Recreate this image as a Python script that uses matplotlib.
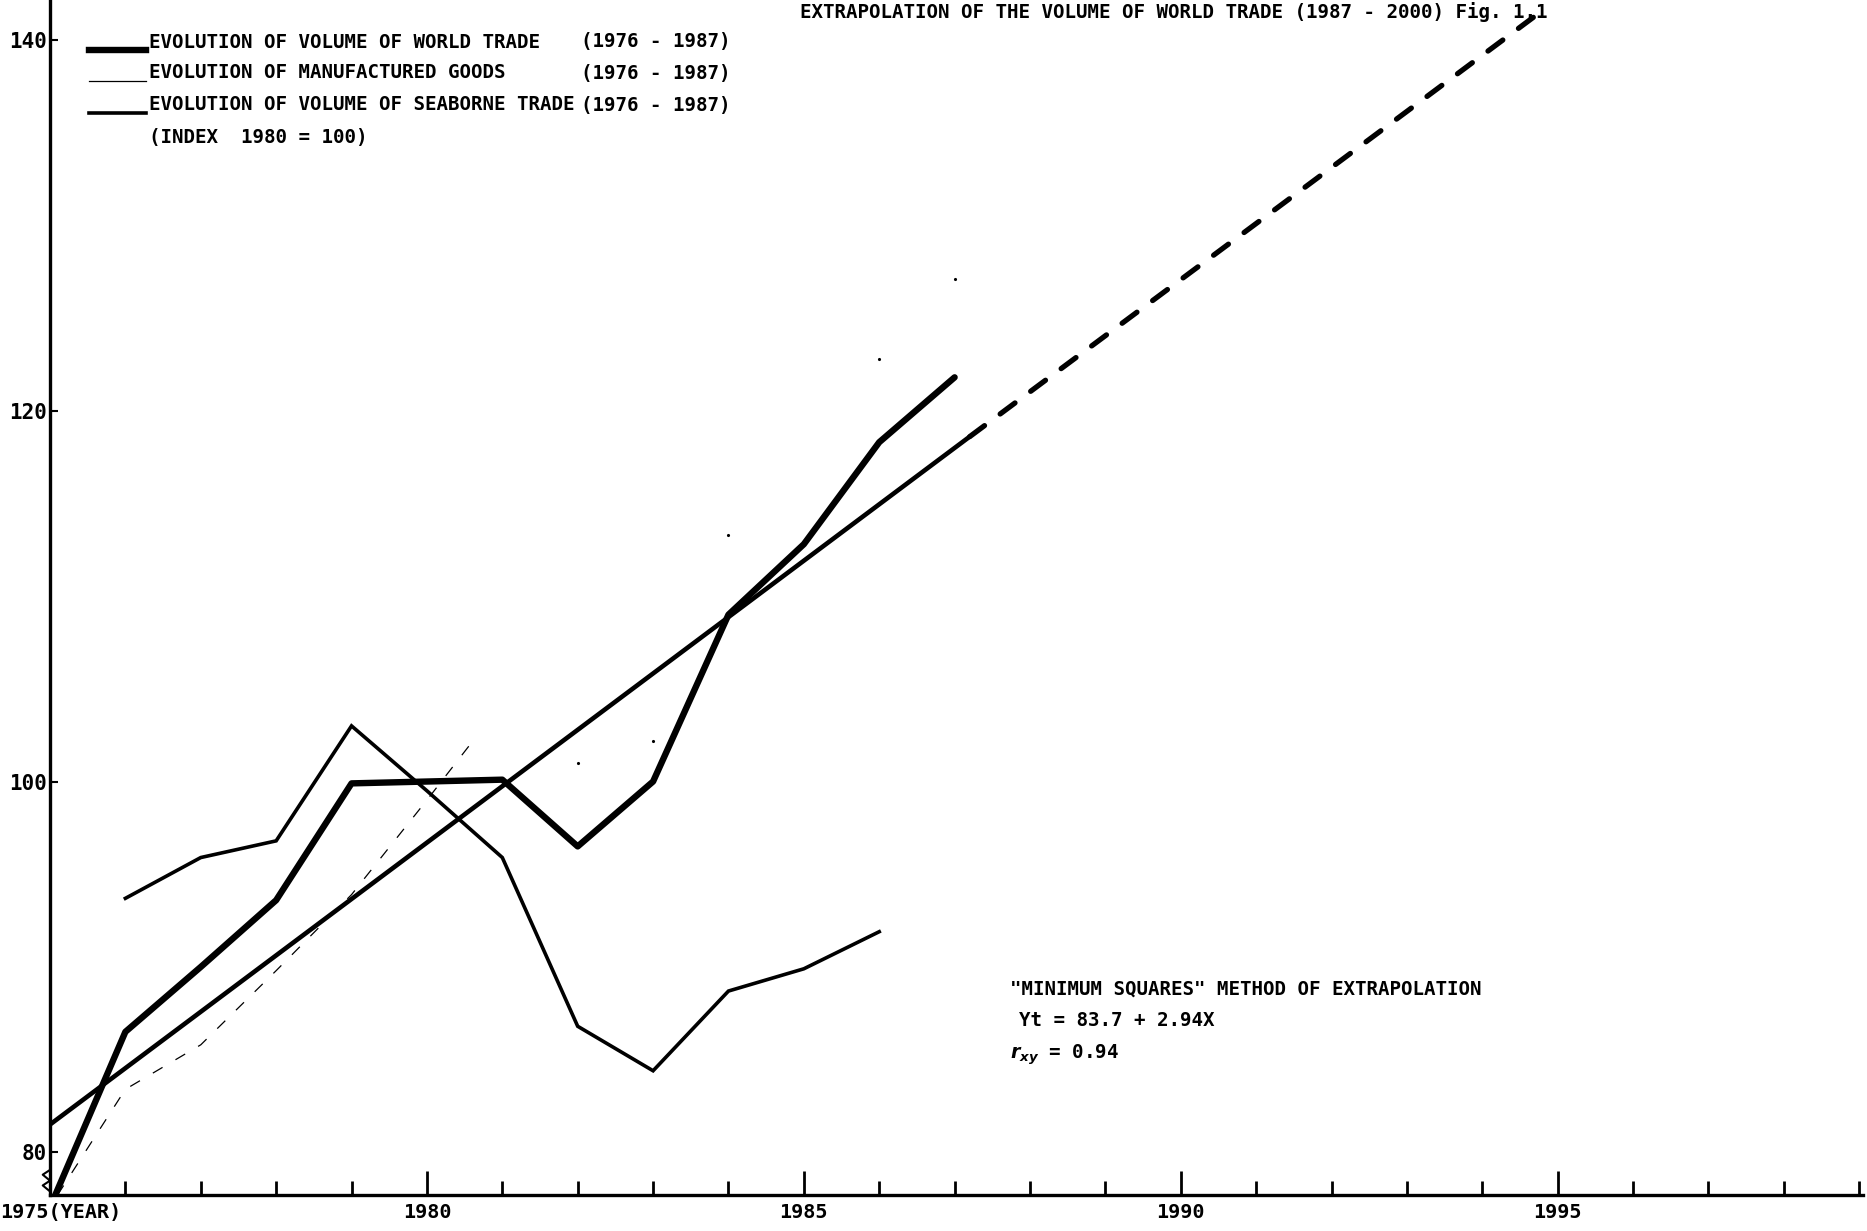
import matplotlib
matplotlib.use("Agg")
import matplotlib.pyplot as plt
from matplotlib.transforms import ScaledTranslation

# typewriter-like plot: monospaced face keeps the column widths of the original
plt.rcParams["font.family"] = ["DejaVu Sans Mono", "DejaVu Sans"]
plt.rcParams["font.weight"] = "bold"

# values (index 1980 = 100)
world_years = [1975.07, 1976, 1977, 1978, 1979, 1980, 1981, 1982, 1983, 1984, 1985, 1986, 1987]
world_trade = [77.7, 86.5, 90.0, 93.6, 99.9, 100.0, 100.1, 96.5, 100.0, 109.0, 112.8, 118.3, 121.8]

sea_years = [1976, 1977, 1978, 1979, 1980, 1981, 1982, 1983, 1984, 1985, 1986]
seaborne = [93.7, 95.9, 96.8, 103.0, 99.5, 95.9, 86.8, 84.4, 88.7, 89.9, 91.9]

# manufactured goods: only the early part survived the scan as a line
manuf_years = [1975.1, 1976, 1977, 1978, 1979, 1980, 1980.65]
manufactured = [77.7, 83.4, 85.8, 89.8, 93.9, 99.0, 102.4]
manuf_rest_years = [1982, 1983, 1984, 1986, 1987]
manuf_rest = [101.0, 102.2, 113.3, 122.8, 127.1]

# least squares trend, solid over the data, dashed for the extrapolation
trend_years = [1975, 1987.2]
trend_vals = [81.5, 118.6]
extra_years = [1987.2, 1994.87]
extra_vals = [118.6, 141.8]

label_years = [1975, 1980, 1985, 1990, 1995]
year_labels = ["1975(YEAR)", "1980", "1985", "1990", "1995"]
y_ticks = [80, 100, 120, 140]

W, H = 1867, 1231
fig = plt.figure(figsize=(W / 100, H / 100), dpi=100)
ax_left, ax_right, ax_top, ax_bot = 50, 1863, 0, 1195
ax = fig.add_axes([ax_left / W, (H - ax_bot) / H, (ax_right - ax_left) / W, (ax_bot - ax_top) / H])
ax.set_xlim(1975, 1999.05)
ax.set_ylim(77.7, 142.15)

ax.plot(world_years, world_trade, color="black", lw=4.6, solid_joinstyle="round", solid_capstyle="round")
ax.plot(sea_years, seaborne, color="black", lw=2.6, solid_joinstyle="miter")
ax.plot(manuf_years, manufactured, color="black", lw=0.9, dashes=(9, 12))
ax.plot(manuf_rest_years, manuf_rest, color="black", ls="none", marker=".", ms=2.5)
ax.plot(trend_years, trend_vals, color="black", lw=3.3, solid_capstyle="round")
ax.plot(extra_years, extra_vals, color="black", lw=3.8, dashes=(3.5, 3.7), dash_capstyle="round")

# axes: only left and bottom, heavy like a pen plot
for s in ["top", "right"]:
    ax.spines[s].set_visible(False)
for s in ["left", "bottom"]:
    ax.spines[s].set_linewidth(2.4)

ax.set_xticks(label_years)
ax.set_xticklabels(year_labels, fontsize=14.5)
ax.set_xticks(range(1976, 2000), minor=True)
ax.tick_params(axis="x", which="major", direction="in", length=17, width=2, pad=6)
ax.tick_params(axis="x", which="minor", direction="in", length=10, width=2)
ax.set_yticks(y_ticks)
ax.set_yticklabels([str(v) for v in y_ticks], fontsize=15)
ax.tick_params(axis="y", direction="in", length=6, width=1.5, pad=2)

first = ax.get_xticklabels()[0]
first.set_horizontalalignment("left")
first.set_transform(first.get_transform() + ScaledTranslation(-0.5, 0, fig.dpi_scale_trans))

# break mark on the y axis
ax.plot([0, -0.004, 0.0, -0.004, 0.0], [0.021, 0.017, 0.012, 0.008, 0.003],
        transform=ax.transAxes, color="black", lw=1.5, clip_on=False)

# hand made legend (pixel positions of the original)
def px(x, y):
    return x / W, 1 - y / H

fs = 13.8
rows = [
    (4.6, "EVOLUTION OF VOLUME OF WORLD TRADE", "(1976 - 1987)", 42),
    (0.9, "EVOLUTION OF MANUFACTURED GOODS", "(1976 - 1987)", 73),
    (2.6, "EVOLUTION OF VOLUME OF SEABORNE TRADE", "(1976 - 1987)", 105),
]
for lw, name, span, y in rows:
    x0, y0 = px(89, y + 8)
    x1, _ = px(146, y + 8)
    fig.add_artist(plt.Line2D([x0, x1], [y0, y0], color="black", lw=lw))
    fig.text(*px(149, y), name, fontsize=fs, va="center", ha="left")
    fig.text(*px(581, y), span, fontsize=fs, va="center", ha="left")
fig.text(*px(149, 137), "(INDEX  1980 = 100)", fontsize=fs, va="center", ha="left")

fig.text(*px(800, 2), "EXTRAPOLATION OF THE VOLUME OF WORLD TRADE (1987 - 2000) Fig. 1.1",
         fontsize=fs, va="top", ha="left")

fig.text(*px(1010, 989), '"MINIMUM SQUARES" METHOD OF EXTRAPOLATION', fontsize=fs, va="center")
fig.text(*px(1019, 1020), "Yt = 83.7 + 2.94X", fontsize=fs, va="center")
fig.text(*px(1010, 1055), r"$r_{xy}$ = 0.94", fontsize=fs, va="center")

fig.savefig("out.png", dpi=100)
